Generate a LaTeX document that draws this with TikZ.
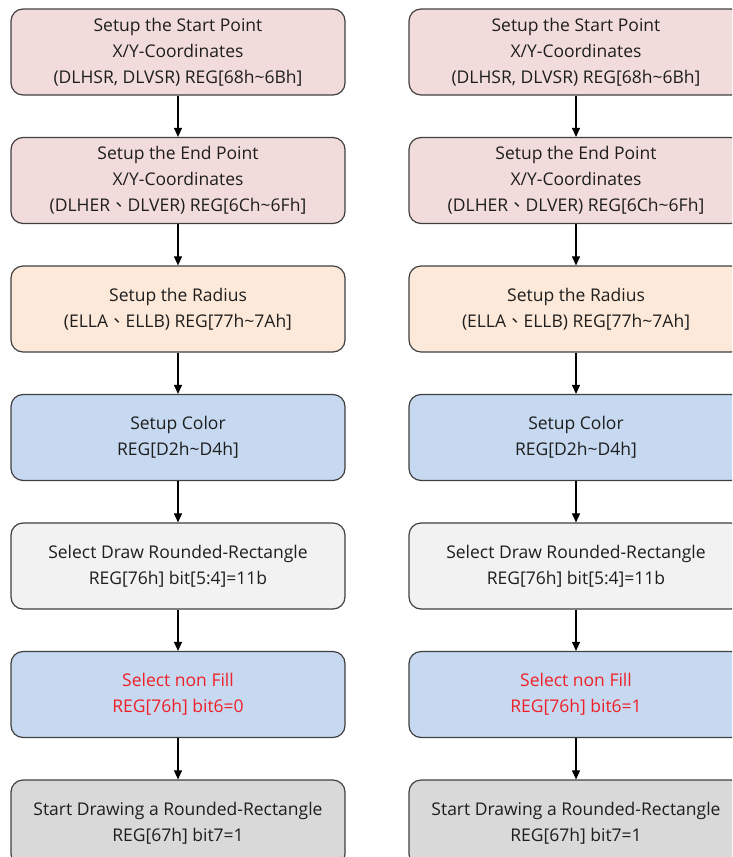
\documentclass[tikz,border=0pt]{standalone}
\usepackage{fontspec}
\setmainfont{Open Sans}
\newfontfamily\cjk{Noto Sans CJK TC}
\usetikzlibrary{arrows.meta}
\definecolor{pinkf}{RGB}{242,220,219}
\definecolor{peachf}{RGB}{253,233,217}
\definecolor{bluef}{RGB}{198,217,241}
\definecolor{lgrayf}{RGB}{242,242,242}
\definecolor{grayf}{RGB}{217,217,217}
\definecolor{edge}{RGB}{64,64,64}
\definecolor{txt}{RGB}{30,30,30}
\definecolor{redt}{RGB}{240,32,40}
\tikzset{
  stepbox/.style={draw=edge, line width=1.2pt, rounded corners=12pt,
    minimum width=334pt, minimum height=86pt, align=center,
    inner sep=0pt, text=txt,
    font=\fontsize{17.5pt}{26pt}\selectfont},
  flow/.style={line width=1.1pt, -{Triangle[width=8pt,length=9pt]}}
}
\newcommand{\sep}{{\cjk 、}}
\begin{document}
\begin{tikzpicture}[x=1pt,y=-1pt]
\useasboundingbox (0,0) rectangle (732,857);
\clip (0,0) rectangle (732,857);
\foreach \c/\x/\bit in {L/178/0, R/576/1}{
  \node[stepbox, fill=pinkf] (\c1) at (\x,52) {Setup the Start Point\\X/Y-Coordinates\\(DLHSR, DLVSR) REG[68h\textasciitilde 6Bh]};
  \node[stepbox, fill=pinkf] (\c2) at (\x,180.5) {Setup the End Point\\X/Y-Coordinates\\(DLHER\sep DLVER) REG[6Ch\textasciitilde 6Fh]};
  \node[stepbox, fill=peachf] (\c3) at (\x,309) {Setup the Radius\\(ELLA\sep ELLB) REG[77h\textasciitilde 7Ah]};
  \node[stepbox, fill=bluef] (\c4) at (\x,437.5) {Setup Color\\REG[D2h\textasciitilde D4h]};
  \node[stepbox, fill=lgrayf] (\c5) at (\x,566) {Select Draw Rounded-Rectangle\\REG[76h] bit[5:4]=11b};
  \node[stepbox, fill=bluef, text=redt] (\c6) at (\x,694.5) {Select non Fill\\REG[76h] bit6=\bit};
  \node[stepbox, fill=grayf] (\c7) at (\x,823) {Start Drawing a Rounded-Rectangle\\REG[67h] bit7=1};
  \draw[flow] (\c1) -- (\c2);
  \draw[flow] (\c2) -- (\c3);
  \draw[flow] (\c3) -- (\c4);
  \draw[flow] (\c4) -- (\c5);
  \draw[flow] (\c5) -- (\c6);
  \draw[flow] (\c6) -- (\c7);
}
\end{tikzpicture}
\end{document}
